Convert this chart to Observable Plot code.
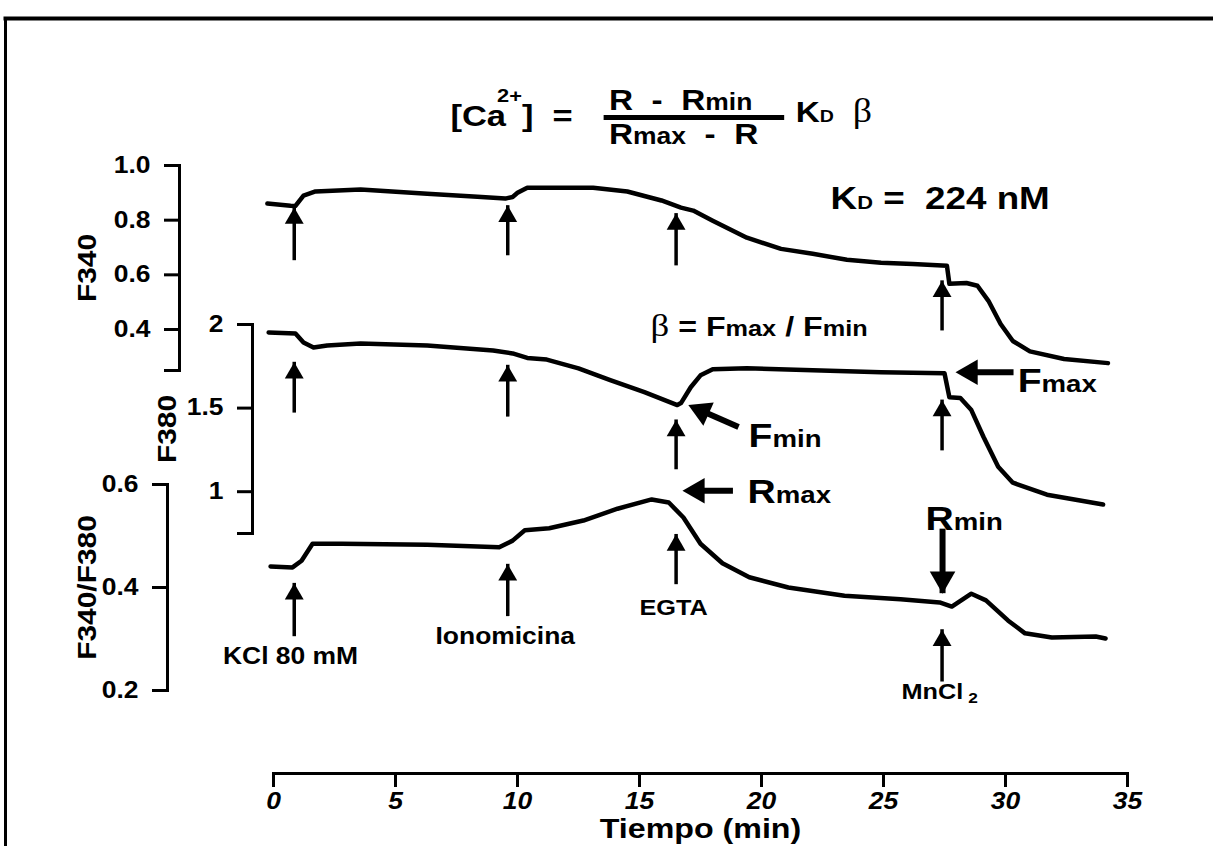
<!DOCTYPE html>
<html><head><meta charset="utf-8">
<script src="https://cdn.jsdelivr.net/npm/d3@7"></script>
<script src="https://cdn.jsdelivr.net/npm/@observablehq/plot@0.6"></script>
<style>
html,body{margin:0;padding:0;background:#fff}
#wrap{position:relative;width:1213px;height:846px;overflow:hidden;background:#fff}
#wrap svg{position:absolute;left:0;top:0;overflow:visible}
#wrap svg text{white-space:pre}
</style></head><body><div id="wrap"></div>
<script>
// ---------- data ----------
const f340Time  = [-0.25,0.7,0.9,1.23,1.72,3.57,6.3,8.36,9.5,9.8,10.0,10.4,13.1,14.5,15.9,16.7,17.2,18.0,19.4,20.8,22.1,23.5,24.9,26.2,27.6,27.7,28.4,28.85,29.3,29.8,30.3,31.0,32.4,34.2];
const f340Value = [0.861,0.853,0.852,0.89,0.905,0.912,0.897,0.886,0.879,0.885,0.90,0.919,0.919,0.905,0.872,0.846,0.835,0.798,0.736,0.695,0.677,0.655,0.644,0.64,0.633,0.567,0.57,0.56,0.505,0.42,0.358,0.32,0.292,0.277];
const f380Time  = [-0.2,0.9,1.23,1.64,2.2,3.57,6.3,9.0,9.8,10.4,11.2,12.5,13.8,15.2,16.55,16.7,17.1,17.5,18.0,19.4,22.1,24.9,27.5,27.7,28.15,28.6,29.1,29.7,30.3,31.7,34.0];
const f380Value = [1.952,1.946,1.893,1.863,1.875,1.887,1.875,1.845,1.827,1.80,1.79,1.738,1.667,1.595,1.518,1.53,1.625,1.696,1.732,1.738,1.726,1.714,1.708,1.565,1.56,1.488,1.327,1.149,1.054,0.982,0.923];
const ratioTime  = [-0.12,0.78,1.15,1.6,2.8,6.3,9.25,9.8,10.3,11.3,12.7,14.1,15.5,16.2,16.8,17.5,18.4,19.5,21.1,23.4,25.7,27.3,27.8,28.6,29.2,30.1,30.8,31.9,33.7,34.1];
const ratioValue = [0.441,0.439,0.452,0.485,0.485,0.483,0.478,0.491,0.511,0.515,0.53,0.553,0.571,0.565,0.536,0.485,0.447,0.42,0.40,0.384,0.377,0.371,0.363,0.388,0.375,0.336,0.311,0.303,0.305,0.301];
const eventTimes  = [0.85, 9.6, 16.5, 27.4];
const eventLabels = ["KCl 80 mM", "Ionomicina", "EGTA", "MnCl"];
const xTicks     = [0,5,10,15,20,25,30,35];
const f340Ticks  = [0.4,0.6,0.8,1.0];
const f380Ticks  = [1,1.5,2];
const ratioTicks = [0.2,0.4,0.6];
const axisTitles = ["F340","F380","F340/F380","Tiempo (min)"];
const kdValue = "224 nM";

// ---------- helpers ----------
const FONT = '"Liberation Sans", Arial, Helvetica, sans-serif';
const SERIF = '"Liberation Serif", "Times New Roman", serif';
const SX = 1.15;
const X = {domain:[0,35], range:[273,1127], axis:null};
const STYLE = {background:"transparent", overflow:"visible", color:"black"};
const toRows = (ts, vs) => ts.map((t,i) => ({t, v: vs[i]}));
const mctx = document.createElement("canvas").getContext("2d");
function tw(s, size, fam, wt){ mctx.font = `${wt} ${size}px ${fam}`; return mctx.measureText(s).width*SX; }
function flow(x, y, pieces, anchor="start"){
  let cur = 0; const placed = [];
  for (const p of pieces){
    const fam = p.family||FONT, wt = p.weight||"bold";
    const pos = cur - (p.back||0);
    placed.push({...p, pos, fam, wt});
    cur = Math.max(cur, pos + tw(p.s, p.size, fam, wt));
  }
  const off = anchor==="middle" ? -cur/2 : 0;
  return placed.map(p => Plot.text([{x,y}], {x:"x", y:"y", text:()=>p.s, dx:p.pos+off, dy:p.dy||0,
    fontSize:p.size, fontFamily:p.fam, fontWeight:p.wt, textAnchor:"start", lineAnchor:"bottom", fill:"black"}));
}
function upArrows(rows){
  return [
    Plot.ruleX(rows, {x:"t", y1:"tail", y2:"tip", stroke:"black", strokeWidth:3.5, insetTop:8}),
    Plot.dot(rows, {x:"t", y:"tip", symbol:"triangle", r:7, fill:"black", stroke:"none", dy:10.8})
  ];
}
function yAxis(ticks, fmt, lo, title, off){
  return [
    Plot.frame({anchor:"left", strokeWidth:3}),
    Plot.axisY({ticks, tickFormat:fmt, tickSize:15, tickPadding:14, strokeWidth:3, fontSize:23, fontWeight:"bold", fontFamily:FONT, label:null}),
    Plot.axisY({ticks:[lo], tickFormat:()=>"", tickSize:15, strokeWidth:3, label:null}),
    Plot.text([title], {frameAnchor:"left", text:d=>d, rotate:-90, dx:-off, fontSize:26, fontWeight:"bold", fontFamily:FONT, textAnchor:"middle", lineAnchor:"middle", fill:"black"})
  ];
}
function stretch(svg){
  d3.select(svg).selectAll("text").each(function(){
    const t = this.getAttribute("transform");
    if (t) this.setAttribute("transform", t + ` scale(${SX},1)`);
    else {
      const x = parseFloat(this.getAttribute("x"))||0;
      this.setAttribute("transform", `translate(${x},0) scale(${SX},1) translate(${-x},0)`);
    }
  });
  return svg;
}
const wrap = document.getElementById("wrap");
const add = p => wrap.appendChild(stretch(p));

// ---------- border of the scanned figure ----------
add(Plot.plot({width:1213, height:846, marginLeft:5, marginTop:18, marginRight:0, marginBottom:0,
  x:{domain:[0,1], axis:null}, y:{domain:[0,1], axis:null}, style:STYLE,
  marks:[Plot.frame({anchor:"top", strokeWidth:4}), Plot.frame({anchor:"left", strokeWidth:3})]}));

// ---------- time axis ----------
add(Plot.plot({width:1213, height:846, marginLeft:273, marginRight:86, marginTop:0, marginBottom:73,
  x:{domain:[0,35]}, style:STYLE,
  marks:[
    Plot.frame({anchor:"bottom", strokeWidth:3}),
    Plot.axisX({ticks:xTicks, tickSize:14, tickPadding:5, strokeWidth:3, fontSize:23, fontWeight:"bold", fontStyle:"italic", fontFamily:FONT, label:null}),
    Plot.text([axisTitles[3]], {frameAnchor:"bottom", text:d=>d, dy:56, fontSize:28, fontWeight:"bold", fontFamily:FONT, lineAnchor:"middle", fill:"black"})
  ]}));

// ---------- F340 ----------
add(Plot.plot({width:1213, height:846, marginLeft:179, marginTop:165, marginBottom:476, marginRight:86,
  x:X, y:{domain:[0.25,1.0]}, style:STYLE,
  marks:[
    ...yAxis(f340Ticks, d3.format(".1f"), 0.25, axisTitles[0], 92),
    Plot.line(toRows(f340Time, f340Value), {x:"t", y:"v", stroke:"black", strokeWidth:4.5, strokeLinejoin:"round"}),
    ...upArrows([{t:eventTimes[0],tip:0.846,tail:0.681},{t:eventTimes[1],tip:0.853,tail:0.699},{t:eventTimes[2],tip:0.824,tail:0.662},{t:eventTimes[3],tip:0.578,tail:0.424}]),
    // formula
    ...flow(7.25, 1.143, [{s:"[Ca",size:30},{s:"2+",size:19,dy:-24,back:9},{s:"]",size:30},{s:"  =",size:30}]),
    ...flow(13.75, 1.202, [{s:"R  -  R",size:29},{s:"min",size:23}]),
    Plot.ruleY([{y:1.176}], {y:"y", x1:13.55, x2:20.95, stroke:"black", strokeWidth:5}),
    ...flow(13.75, 1.078, [{s:"R",size:29},{s:"max",size:23},{s:"  -  R",size:29}]),
    ...flow(21.4, 1.158, [{s:"K",size:29},{s:"D",size:17},{s:"  β",size:33,family:SERIF,weight:"normal"}]),
    ...flow(22.83, 0.842, [{s:"K",size:32},{s:"D",size:19},{s:" =  "+kdValue,size:32}]),
    ...flow(15.45, 0.376, [{s:"β",size:32,family:SERIF,weight:"normal"},{s:" = F",size:28},{s:"max",size:22},{s:" / F",size:28},{s:"min",size:22}])
  ]}));

// ---------- F380 ----------
add(Plot.plot({width:1213, height:846, marginLeft:252, marginTop:324, marginBottom:313, marginRight:86,
  x:X, y:{domain:[0.75,2]}, style:STYLE,
  marks:[
    ...yAxis(f380Ticks, d=>String(d), 0.75, axisTitles[1], 85),
    Plot.line(toRows(f380Time, f380Value), {x:"t", y:"v", stroke:"black", strokeWidth:4.5, strokeLinejoin:"round"}),
    ...upArrows([{t:eventTimes[0],tip:1.774,tail:1.518},{t:eventTimes[1],tip:1.756,tail:1.494},{t:eventTimes[2],tip:1.429,tail:1.179},{t:eventTimes[3],tip:1.548,tail:1.292}]),
    // Fmax arrow + label
    Plot.ruleY([{y:1.714}], {y:"y", x1:27.95, x2:30.35, stroke:"black", strokeWidth:6, insetLeft:12}),
    Plot.dot([{t:27.95,v:1.714}], {x:"t", y:"v", symbol:"triangle", r:9.5, rotate:-90, dx:14.8, fill:"black", stroke:"none"}),
    ...flow(30.5, 1.595, [{s:"F",size:34},{s:"max",size:24}]),
    // Fmin arrow + label
    Plot.link([{x1:19.06,y1:1.387,x2:17.375,y2:1.494}], {x1:"x1",y1:"y1",x2:"x2",y2:"y2", stroke:"black", strokeWidth:6}),
    Plot.dot([{t:17.0,v:1.518}], {x:"t", y:"v", symbol:"triangle", r:9.5, rotate:-66, dx:13.5, dy:6, fill:"black", stroke:"none"}),
    ...flow(19.47, 1.268, [{s:"F",size:34},{s:"min",size:24}])
  ]}));

// ---------- F340/F380 ----------
const ratioMarks = [
  ...yAxis(ratioTicks, d3.format(".1f"), 0.2, axisTitles[2], 80),
  Plot.line(toRows(ratioTime, ratioValue), {x:"t", y:"v", stroke:"black", strokeWidth:4.5, strokeLinejoin:"round"}),
  ...upArrows([{t:eventTimes[0],tip:0.408,tail:0.320},{t:eventTimes[1],tip:0.445,tail:0.359},{t:eventTimes[2],tip:0.503,tail:0.421},{t:eventTimes[3],tip:0.318,tail:0.232}]),
  // Rmax
  Plot.ruleY([{y:0.588}], {y:"y", x1:16.76, x2:18.85, stroke:"black", strokeWidth:6, insetLeft:12}),
  Plot.dot([{t:16.76,v:0.588}], {x:"t", y:"v", symbol:"triangle", r:9.5, rotate:-90, dx:14.8, fill:"black", stroke:"none"}),
  ...flow(19.43, 0.565, [{s:"R",size:34},{s:"max",size:24}]),
  // Rmin
  Plot.ruleX([{t:27.42}], {x:"t", y1:0.388, y2:0.490, stroke:"black", strokeWidth:6, insetBottom:12}),
  Plot.dot([{t:27.42,v:0.388}], {x:"t", y:"v", symbol:"triangle", r:9.5, rotate:180, dy:-14.8, fill:"black", stroke:"none"}),
  ...flow(26.72, 0.512, [{s:"R",size:34},{s:"min",size:24}]),
  // event labels
  ...flow(0.7, 0.252, [{s:eventLabels[0],size:23}], "middle"),
  ...flow(9.5, 0.290, [{s:eventLabels[1],size:23}], "middle"),
  ...flow(16.4, 0.347, [{s:eventLabels[2],size:22}], "middle"),
  ...flow(27.3, 0.183, [{s:eventLabels[3],size:22},{s:" 2",size:15,dy:4}], "middle")
];
add(Plot.plot({width:1213, height:846, marginLeft:167, marginTop:484, marginBottom:156, marginRight:86,
  x:X, y:{domain:[0.2,0.6]}, style:STYLE, marks:ratioMarks}));
</script></body></html>
